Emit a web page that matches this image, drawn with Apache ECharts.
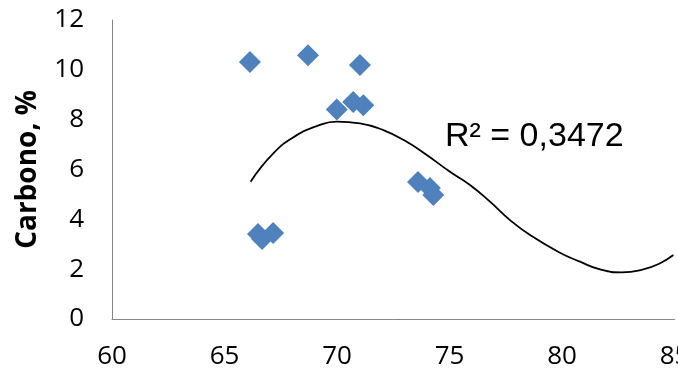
<!DOCTYPE html>
<html>
<head>
<meta charset="utf-8">
<script src="https://cdn.jsdelivr.net/npm/echarts@6/dist/echarts.min.js"></script>
<style>
  html, body { margin: 0; padding: 0; background: #fff; }
  #chart { width: 678px; height: 372px; }
</style>
</head>
<body>
<div id="chart"></div>
<script>
// pontos medidos (x, carbono %)
const pontosX = [66.13, 68.71, 71.02, 69.99, 70.72, 71.17, 66.49, 66.67, 67.16, 73.6, 74.13, 74.28];
const carbono = [10.31, 10.59, 10.19, 8.41, 8.71, 8.58, 3.41, 3.21, 3.45, 5.50, 5.26, 4.98];

// linha de tendência
const tendX = [66.16, 67.17, 68.21, 69.10, 69.99, 71.02, 72.06, 73.10, 73.99, 75.02, 75.91, 76.80, 77.69, 78.58, 79.91, 80.80, 81.69, 82.65, 83.61, 84.36, 84.95];
const tendY = [5.51, 6.65, 7.38, 7.74, 7.92, 7.85, 7.58, 7.11, 6.58, 5.91, 5.38, 4.71, 3.97, 3.37, 2.66, 2.30, 1.99, 1.87, 1.99, 2.24, 2.57];

const r2Texto = 'R² = 0,3472';

var myChart = echarts.init(document.getElementById('chart'));

var option = {
    animation: false,
    grid: { left: 112, right: 3.5, top: 20, bottom: 53, outerBoundsMode: 'none', containLabel: false },
    xAxis: {
        type: 'value',
        min: 60,
        max: 85,
        interval: 5,
        splitLine: { show: false },
        axisTick: { show: false },
        axisLine: { onZero: false, lineStyle: { color: '#868686', width: 1 } },
        axisLabel: { color: '#000', fontSize: 26, fontFamily: 'Open Sans', margin: 25, hideOverlap: false }
    },
    yAxis: {
        type: 'value',
        min: 0,
        max: 12,
        interval: 2,
        name: 'Carbono, %',
        nameLocation: 'middle',
        nameGap: 70,
        nameTextStyle: { color: '#000', fontSize: 28, fontWeight: 'bold', fontFamily: 'Open Sans' },
        splitLine: { show: false },
        axisTick: { show: false },
        axisLine: { show: true, lineStyle: { color: '#868686', width: 1 } },
        axisLabel: { color: '#000', fontSize: 26, fontFamily: 'Open Sans', margin: 28 }
    },
    series: [
        {
            type: 'line',
            data: tendX.map((x, i) => [x, tendY[i]]),
            smooth: true,
            showSymbol: false,
            lineStyle: { color: '#000', width: 1.8 },
            z: 1
        },
        {
            type: 'scatter',
            data: pontosX.map((x, i) => [x, carbono[i]]),
            symbol: 'diamond',
            symbolSize: 22,
            itemStyle: { color: '#4F81BD', opacity: 1 },
            z: 2
        }
    ],
    graphic: [
        {
            type: 'text',
            left: 445,
            top: 120,
            style: { text: r2Texto, fontSize: 34, fontFamily: 'Liberation Sans', fill: '#000' }
        }
    ]
};

myChart.setOption(option);
</script>
</body>
</html>
